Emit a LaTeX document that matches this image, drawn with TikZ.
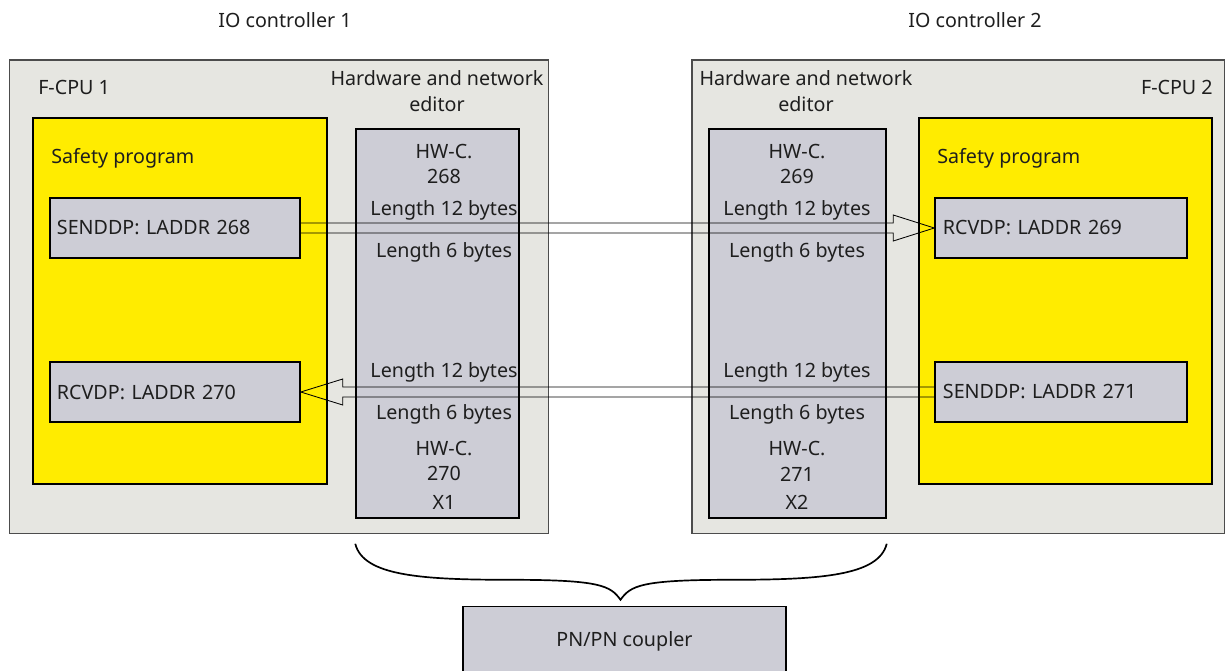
\documentclass[tikz,border=0pt]{standalone}
\usepackage{fontspec}
\setmainfont{Noto Sans}
\usepackage{xcolor}
\usetikzlibrary{positioning,calc}
\definecolor{panelgray}{RGB}{230,230,225}
\definecolor{safeyellow}{RGB}{255,236,0}
\definecolor{hwgray}{RGB}{205,205,214}
\definecolor{txtdark}{RGB}{30,30,30}

\begin{document}
\begin{tikzpicture}[x=0.025cm, y=-0.025cm, every node/.style={font=\fontsize{14}{18.4}\selectfont, text=txtdark}]
    \tikzstyle{panel}=[draw=black!70, line width=0.8pt, fill=panelgray, inner sep=0pt]
    \tikzstyle{safety}=[draw=black, line width=1pt, fill=safeyellow, minimum width=7.35cm, minimum height=9.15cm, inner sep=0pt]
    \tikzstyle{hwcol}=[draw=black, line width=1pt, fill=hwgray, minimum height=9.725cm, inner sep=0pt]
    \tikzstyle{block}=[draw=black, line width=1pt, fill=hwgray, minimum width=6.25cm, minimum height=1.5cm, text width=5.9cm, align=left]
    \tikzstyle{lbl}=[inner sep=0pt, align=center]
    \tikzstyle{flow}=[draw=black, line width=0.6pt, line join=miter]
    \useasboundingbox (0,0) rectangle (1225,671);
    % panels of the two controllers
    \node[panel, minimum width=13.45cm, minimum height=11.825cm] (cpu1) at (279,296.5) {};
    \node[panel, minimum width=13.3cm, minimum height=11.825cm] (cpu2) at (958,296.5) {};
    \node[safety] (safe1) at (180,301) {};
    \node[safety, minimum width=7.325cm] (safe2) at (1065.5,301) {};
    \node[hwcol, minimum width=4.075cm] (hw1) at (437.5,323.5) {};
    \node[hwcol, minimum width=4.425cm] (hw2) at (797.5,323.5) {};
    \node[block] (snd1) at (175,228) {SENDDP: LADDR 268};
    \node[block] (rcv1) at (175,392) {RCVDP: LADDR 270};
    \node[block, minimum width=6.3cm] (rcv2) at (1061,228) {RCVDP: LADDR 269};
    \node[block, minimum width=6.3cm] (snd2) at (1061,392) {SENDDP: LADDR 271};
    \node[block, minimum width=8.075cm, minimum height=1.725cm, text width=, align=center] (coupler) at (624.5,641) {PN/PN coupler};
    % headings
    \node[lbl] (ioc1) at (285,20) {IO controller 1};
    \node[lbl] (ioc2) at (975,20) {IO controller 2};
    \node[lbl, anchor=west] (fcpu1) at (38,87) {F-CPU 1};
    \node[lbl, anchor=east] (fcpu2) at (1213,87) {F-CPU 2};
    \node[lbl] (hne1) at (437,91) {Hardware and network\\editor};
    \node[lbl] (hne2) at (806,91) {Hardware and network\\editor};
    \node[lbl, anchor=west] (sp1) at (51,158) {Safety program};
    \node[lbl, anchor=west] (sp2) at (937,158) {Safety program};
    % hardware identifiers
    \node[lbl] (hwc268) at (444,164) {HW-C.\\268};
    \node[lbl] (l268a) at (444,210) {Length 12 bytes};
    \node[lbl] (l268b) at (444,252) {Length 6 bytes};
    \node[lbl] (l270a) at (444,372) {Length 12 bytes};
    \node[lbl] (l270b) at (444,414) {Length 6 bytes};
    \node[lbl] (hwc270) at (444,461) {HW-C.\\270};
    \node[lbl] (x1) at (444,502) {X1};
    \node[lbl] (hwc269) at (797,164) {HW-C.\\269};
    \node[lbl] (l269a) at (797,210) {Length 12 bytes};
    \node[lbl] (l269b) at (797,252) {Length 6 bytes};
    \node[lbl] (l271a) at (797,372) {Length 12 bytes};
    \node[lbl] (l271b) at (797,414) {Length 6 bytes};
    \node[lbl] (hwc271) at (797,461) {HW-C.\\271};
    \node[lbl] (x2) at (797,502) {X2};
    % hollow data arrows
    \draw[flow] ($(snd1.east)+(0,-5)$) -- ($(rcv2.west)+(-41,-5)$) -- ++(0,-8) -- (rcv2.west)
        -- ++(-41,13) -- ++(0,-8) -- ($(snd1.east)+(0,5)$);
    \draw[flow] ($(snd2.west)+(0,-5)$) -- ($(rcv1.east)+(42,-5)$) -- ++(0,-8) -- (rcv1.east)
        -- ++(42,13) -- ++(0,-8) -- ($(snd2.west)+(0,5)$);
    % brace to the coupler
    \coordinate (bl) at ($(hw1.south west)+(0,25)$);
    \coordinate (br) at ($(hw2.south east)+(0,25)$);
    \coordinate (bt) at ($(coupler.north)+(-4,-6)$);
    \draw[line width=1.2pt] (bl) .. controls +(8,32) and +(-90,0) .. ($(bt)+(-110,-20)$)
        .. controls +(90,0) and +(-10,-14) .. (bt)
        .. controls +(10,-14) and +(-90,0) .. ($(bt)+(110,-20)$)
        .. controls +(90,0) and +(-8,32) .. (br);
\end{tikzpicture}
\end{document}
